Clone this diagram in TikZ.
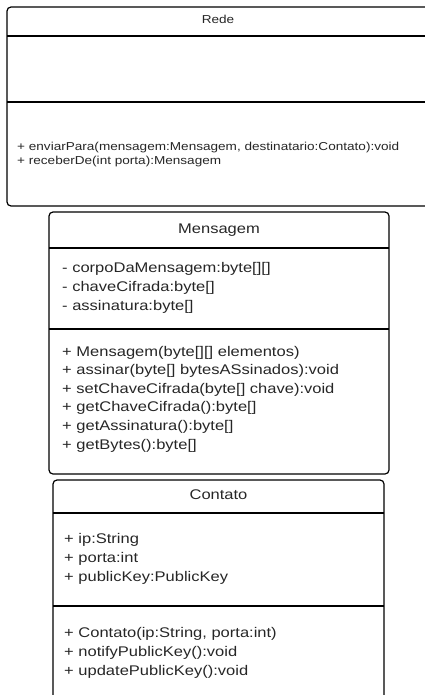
\documentclass[tikz,border=0pt]{standalone}
\usepackage{fontspec}
\setmainfont{Liberation Sans}[FakeStretch=1.18]
\usetikzlibrary{positioning}

\begin{document}
\begin{tikzpicture}[x=1pt,y=-1pt,
  classbox/.style={draw,line width=1.2pt,rounded corners=4pt},
  sep/.style={line width=1.2pt},
  member/.style={anchor=base west,inner sep=0pt,text=black!85},
  title/.style={anchor=base,inner sep=0pt,text=black!85},
  small/.style={font=\fontsize{11.5}{14}\selectfont},
  big/.style={font=\fontsize{14}{18}\selectfont}]
  \useasboundingbox (0,0) rectangle (425,695);
  \clip (0,0) rectangle (425,695);
  % Rede
  \draw[classbox] (7,7) rectangle (440,206);
  \draw[sep] (7,36) -- (430,36);
  \draw[sep] (7,102) -- (430,102);
  \node[title,small] (rede) at (218,24) {Rede};
  \node[member,small] (rop0) at (17,150) {+ enviarPara(mensagem:Mensagem, destinatario:Contato):void};
  \node[member,small] (rop1) at (17,164.5) {+ receberDe(int porta):Mensagem};
  % Mensagem
  \draw[classbox] (49,212) rectangle (389,474);
  \draw[sep] (49,248) -- (389,248);
  \draw[sep] (49,329) -- (389,329);
  \node[title,big] (mensagem) at (219,233) {Mensagem};
  \foreach \txt [count=\i from 0] in {{- corpoDaMensagem:byte[][]},{- chaveCifrada:byte[]},{- assinatura:byte[]}}
    \node[member,big] (mattr\i) at (62,272+19*\i) {\txt};
  \foreach \txt [count=\i from 0] in {{+ Mensagem(byte[][] elementos)},{+ assinar(byte[] bytesASsinados):void},
    {+ setChaveCifrada(byte[] chave):void},{+ getChaveCifrada():byte[]},{+ getAssinatura():byte[]},{+ getBytes():byte[]}}
    \node[member,big] (mop\i) at (62,356+18.6*\i) {\txt};
  % Contato
  \draw[classbox] (53,480) rectangle (384,705);
  \draw[sep] (53,513) -- (384,513);
  \draw[sep] (53,606) -- (384,606);
  \node[title,big] (contato) at (218.5,499) {Contato};
  \foreach \txt [count=\i from 0] in {{+ ip:String},{+ porta:int},{+ publicKey:PublicKey}}
    \node[member,big] (cattr\i) at (64,543+19*\i) {\txt};
  \foreach \txt [count=\i from 0] in {{+ Contato(ip:String, porta:int)},{+ notifyPublicKey():void},{+ updatePublicKey():void}}
    \node[member,big] (cop\i) at (64,637+19*\i) {\txt};
\end{tikzpicture}
\end{document}
